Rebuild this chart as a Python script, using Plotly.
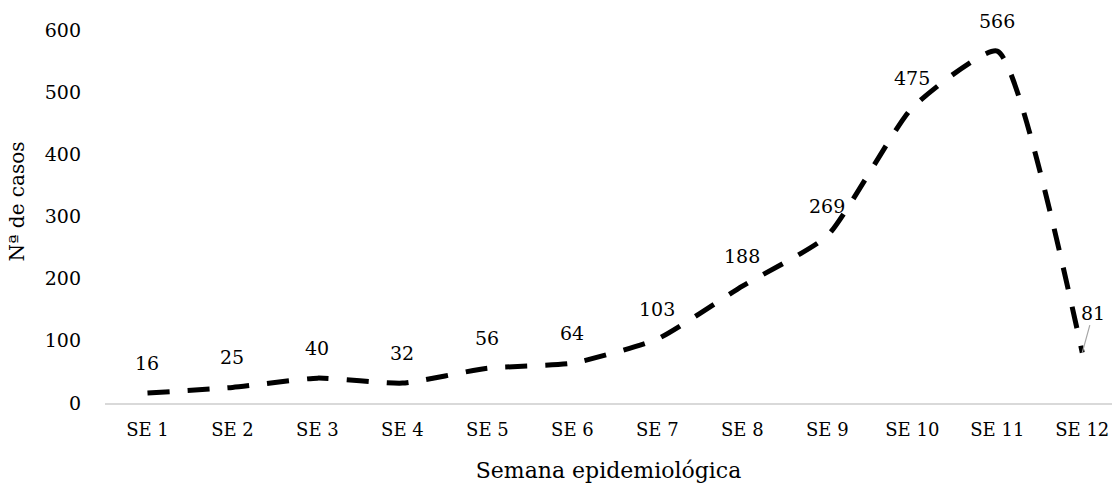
import plotly.graph_objects as go

categories = ["SE 1", "SE 2", "SE 3", "SE 4", "SE 5", "SE 6",
              "SE 7", "SE 8", "SE 9", "SE 10", "SE 11", "SE 12"]
casos = [16, 25, 40, 32, 56, 64, 103, 188, 269, 475, 566, 81]
y_ticks = [0, 100, 200, 300, 400, 500, 600]

FONT = "DejaVu Serif"

fig = go.Figure()
fig.add_trace(go.Scatter(
    x=categories, y=casos, mode="lines",
    line=dict(color="black", width=5, dash="22px,18px", shape="spline", smoothing=0.5),
    hoverinfo="skip", showlegend=False,
))

for i, (c, v) in enumerate(zip(categories, casos)):
    if i == len(categories) - 1:
        fig.add_annotation(x=c, y=v, text=str(v), showarrow=True, ax=11, ay=-40,
                           arrowhead=0, arrowwidth=1.2, arrowcolor="#a6a6a6", standoff=0,
                           font=dict(family=FONT, size=19, color="black"))
    else:
        fig.add_annotation(x=c, y=v, text=str(v), showarrow=False, yshift=30,
                           font=dict(family=FONT, size=19, color="black"))

fig.update_layout(
    width=1112, height=483,
    margin=dict(l=105, r=0, t=0, b=80),
    paper_bgcolor="white", plot_bgcolor="white",
    font=dict(family=FONT, size=19, color="black"),
    hovermode=False,
    xaxis=dict(type="category", range=[-0.5, 11.35], showgrid=False,
               showline=True, linecolor="#d9d9d9", linewidth=1.5,
               ticks="", tickfont=dict(size=18), ticklabelstandoff=10,
               ticklabeloverflow="allow",
               title=dict(text="Semana epidemiológica", font=dict(size=22), standoff=24)),
    yaxis=dict(range=[0, 648.2], tickvals=y_ticks, showgrid=False, zeroline=False,
               showline=False, ticks="", ticklabelstandoff=23, tickfont=dict(size=19),
               title=dict(text="Nª de casos", font=dict(size=20), standoff=14)),
)

fig.write_html(
    "out.html",
    config={"displayModeBar": False, "staticPlot": True},
    post_script="document.documentElement.style.overflow='hidden';"
                "document.body.style.overflow='hidden';"
                "document.body.style.margin='0';",
)
